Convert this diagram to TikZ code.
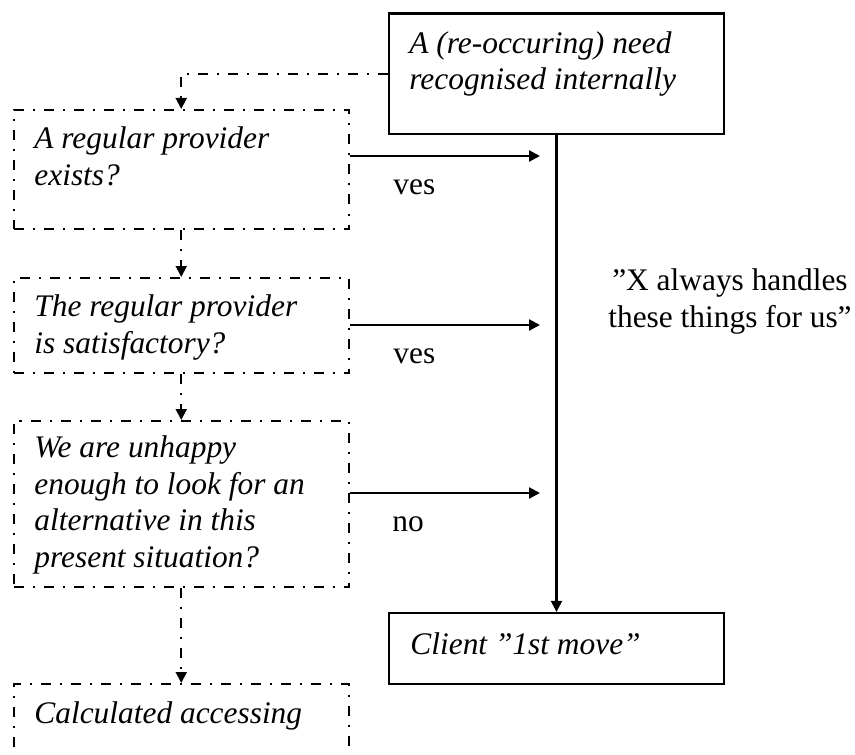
\documentclass[tikz,border=0pt]{standalone}
\usepackage{fontspec}
\setmainfont{Liberation Serif}
\usetikzlibrary{arrows.meta}
\begin{document}
\begin{tikzpicture}[x=0.5pt,y=-0.5pt,
  every node/.style={font=\fontsize{15.7pt}{18.25pt}\selectfont},
  solidbox/.style={draw, line width=1.1pt, inner sep=0pt, minimum width=167.5pt},
  dotbox/.style={draw, line width=1pt, inner sep=0pt, minimum width=167.75pt,
    dash pattern=on 5pt off 4.5pt on 1pt off 4.5pt},
  boxtext/.style={anchor=base west, inner sep=0pt, align=left,
    font=\fontsize{15.7pt}{18.25pt}\selectfont\itshape},
  label/.style={anchor=base west, inner sep=0pt},
  flow/.style={line width=1.1pt, -{Triangle[length=5.5pt,width=5.5pt]}},
  ddflow/.style={line width=1pt, dash pattern=on 5pt off 4.5pt on 1pt off 4.5pt,
    -{Triangle[length=5.5pt,width=5.5pt]}},
]
\useasboundingbox (0,0) rectangle (855,754);
\clip (0,0) rectangle (855,754);

% boxes
\node[solidbox, minimum height=60.25pt] (T) at (556.5,73.75) {};
\node[dotbox, minimum height=59.5pt] (B1) at (181.25,169.5) {};
\node[dotbox, minimum height=47.5pt] (B2) at (181.25,325.5) {};
\node[dotbox, minimum height=83pt] (B3) at (181.25,504) {};
\node[dotbox, minimum height=58pt] (B4) at (181.25,742) {};
\node[solidbox, minimum height=35.5pt] (C) at (556.5,648.5) {};

% box texts (placed by the baseline of their last line)
\node[boxtext] (tT) at (409,90) {A (re-occuring) need\\recognised internally};
\node[boxtext] (t1) at (34,185) {A regular provider\\exists?};
\node[boxtext] (t2) at (34,353) {The regular provider\\is satisfactory?};
\node[boxtext] (t3) at (34,567) {We are unhappy\\enough to look for an\\alternative in this\\present situation?};
\node[boxtext] (t4) at (34,723) {Calculated accessing};
\node[boxtext] (tC) at (410,654) {Client ”1st move”};

% free labels
\node[label] (y1) at (393,195) {ves};
\node[label] (y2) at (393,363) {ves};
\node[label] (n3) at (392,531) {no};
\node[anchor=base, inner sep=0pt, align=center] (quote) at (730,327)
  {”X always handles\\these things for us”};

% arrow ends beside the main line
\coordinate (e1) at (540,156);
\coordinate (e2) at (540,325);
\coordinate (e3) at (540,493);

% connectors
\draw[ddflow] (T.west) -| (B1.north);
\draw[ddflow] (B1.south) -- (B2.north);
\draw[ddflow] (B2.south) -- (B3.north);
\draw[ddflow] (B3.south) -- (B4.north);
\draw[flow] (B1.east |- e1) -- (e1);
\draw[flow] (B2.east |- e2) -- (e2);
\draw[flow] (B3.east |- e3) -- (e3);
\draw[flow] (T.south) -- (C.north);
\end{tikzpicture}
\end{document}
